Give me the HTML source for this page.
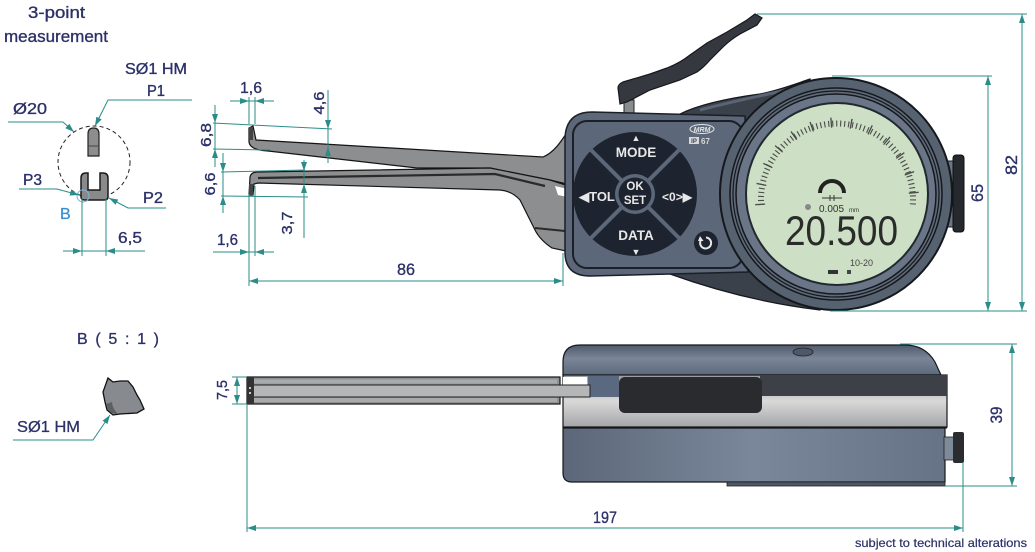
<!DOCTYPE html>
<html><head><meta charset="utf-8"><style>
html,body{margin:0;padding:0;background:#fff;}
svg{display:block;}
text{font-family:"Liberation Sans",sans-serif;}
</style></head><body>
<svg width="1035" height="552" viewBox="0 0 1035 552" xmlns="http://www.w3.org/2000/svg">
<defs>
<marker id="ar" markerUnits="userSpaceOnUse" markerWidth="9" markerHeight="6" refX="9" refY="3" orient="auto-start-reverse"><path d="M0,0 L9,3 L0,6 Z" fill="#2a8d89"/></marker>
<linearGradient id="gTop" x1="0" y1="0" x2="0" y2="1"><stop offset="0" stop-color="#4f5b6c"/><stop offset="0.45" stop-color="#7a8698"/><stop offset="1" stop-color="#5d6a7c"/></linearGradient>
<linearGradient id="gBand" x1="0" y1="0" x2="0" y2="1"><stop offset="0" stop-color="#9a9c9f"/><stop offset="0.5" stop-color="#d9d9da"/><stop offset="1" stop-color="#a4a5a7"/></linearGradient>
<linearGradient id="gLow" x1="0" y1="0" x2="1" y2="0"><stop offset="0" stop-color="#5c687a"/><stop offset="0.5" stop-color="#7a879a"/><stop offset="1" stop-color="#667386"/></linearGradient>
</defs>

<!-- ============ DETAIL VIEW TOP LEFT ============ -->
<g fill="#2c3169" stroke="#2c3169" stroke-width="0.35" font-size="17">
<text x="28" y="18" textLength="57" lengthAdjust="spacingAndGlyphs">3-point</text>
<text x="4" y="42" textLength="104" lengthAdjust="spacingAndGlyphs">measurement</text>
<text x="125" y="74" font-size="16" textLength="62" lengthAdjust="spacingAndGlyphs">SØ1 HM</text>
<text x="147" y="96" font-size="16" textLength="18" lengthAdjust="spacingAndGlyphs">P1</text>
<text x="13" y="114" font-size="16" textLength="34" lengthAdjust="spacingAndGlyphs">Ø20</text>
<text x="23" y="185" font-size="16" textLength="19" lengthAdjust="spacingAndGlyphs">P3</text>
<text x="143" y="203" font-size="16" textLength="20" lengthAdjust="spacingAndGlyphs">P2</text>
<text x="118" y="243" font-size="16" textLength="24" lengthAdjust="spacingAndGlyphs">6,5</text>
</g>
<text x="60" y="219" font-size="16" fill="#3a8fcf" stroke="#3a8fcf" stroke-width="0.3">B</text>
<circle cx="94" cy="162" r="36" fill="none" stroke="#222" stroke-width="1" stroke-dasharray="4 3"/>
<path d="M88,156 L88,134 Q88,128 93.5,128 Q99,128 99,134 L99,156 Z" fill="#8d8d8d" stroke="#222" stroke-width="1.2"/>
<path d="M88,146 L99,146" stroke="#444" stroke-width="1"/>
<path d="M81,197 L81,178 Q81,173 86,173 L88,173 L88,190 L100,190 L100,173 L103,173 Q108,173 108,178 L108,197 Q108,200 104,200 L85,200 Q81,200 81,197 Z" fill="#8a8a8a" stroke="#1a1a1a" stroke-width="1.5"/>
<circle cx="83" cy="196" r="6" fill="none" stroke="#7fb3dc" stroke-width="1"/>

<!-- ============ DETAIL B ============ -->
<text x="77" y="344" font-size="16" fill="#2c3169" stroke="#2c3169" stroke-width="0.3" textLength="82" lengthAdjust="spacing">B ( 5 : 1 )</text>
<path d="M108,378 L113,382 L120,381 L128,381 L133,387 L137,395 L140,400 L144,409 L137,413 L120,414 L113,415 L107,410 L105,402 L103,392 Z" fill="#878a8e" stroke="#111" stroke-width="1.3"/>
<path d="M106,404 Q108,414 118,414 Q112,408 112,402 Z" fill="#5c5f63"/>
<text x="17" y="432" font-size="16" fill="#2c3169" stroke="#2c3169" stroke-width="0.3" textLength="63" lengthAdjust="spacingAndGlyphs">SØ1 HM</text>

<!-- ============ FRONT VIEW ============ -->
<!-- lever -->
<rect x="624" y="100" width="10" height="14" fill="#8a8d90" stroke="#222" stroke-width="1"/>
<path d="M618,88 Q618,84 623,82 L650,74 L667,68 Q680,63 690,55 L707,43 L727,32 L747,20 L755,14 L762,18 L757,25 L740,34 Q730,40 723,47 L710,60 Q703,68 697,72 L680,80 L650,90 L627,102 L620,104 Z" fill="#35393f" stroke="#15181c" stroke-width="1.2"/>

<!-- arms -->
<path d="M249,128 L253,126 L256,140 L543,157 C555,152 562,140 570,128 L575,186 L550,180 L490,168 L417,168 L268,151 Q250,150 249,142 Z" fill="#8c8e90" stroke="#151515" stroke-width="1.2"/>
<path d="M250,177 Q251,172 258,172 L490,168 L550,180 L575,188 L575,253 L552,248 Q540,240 535,230 L520,200 Q512,191 500,190 L258,183 L254,184 L253,195 L249,195 Z" fill="#8c8e90" stroke="#151515" stroke-width="1.2"/>
<path d="M258,178 L495,174 L545,186" fill="none" stroke="#2a2a2a" stroke-width="2.2"/>
<path d="M535,228 L575,232" stroke="#2a2a2a" stroke-width="2"/>
<path d="M555,186 L572,190 L572,198 L558,195 Z" fill="#fff"/>
<rect x="249" y="127" width="4" height="13" fill="#444"/>
<rect x="249" y="184" width="4" height="11" fill="#444"/>

<!-- dark body behind -->
<path d="M680,114 C700,104 730,98 760,94 C780,90 795,84 810,79 L836,194 L820,310 C770,304 720,292 670,274 Z" fill="#3a414b" stroke="#15181c" stroke-width="1.2"/>
<path d="M700,110 C730,102 760,96 795,88" fill="none" stroke="#5a6474" stroke-width="3"/>

<!-- keypad panel -->
<path d="M565,140 Q565,112 592,112 L745,116 L748,272 L590,276 Q565,276 565,252 Z" fill="#5c6879" stroke="#1b1f26" stroke-width="1.5"/>
<rect x="573" y="121" width="170" height="147" rx="14" fill="none" stroke="#1b1f26" stroke-width="2"/>
<circle cx="635" cy="194" r="62" fill="#1d2430"/>
<g stroke="#5c6879" stroke-width="4">
<line x1="591" y1="150" x2="679" y2="238"/>
<line x1="679" y1="150" x2="591" y2="238"/>
</g>
<circle cx="635" cy="194" r="20" fill="#5c6879"/>
<circle cx="635" cy="194" r="16.5" fill="#1d2430"/>
<g fill="#e8e8e8" font-weight="bold" text-anchor="middle">
<text x="636" y="141" font-size="9">▲</text>
<text x="636" y="157" font-size="13.5">MODE</text>
<text x="636" y="255" font-size="9">▼</text>
<text x="636" y="240" font-size="13.5">DATA</text>
<text x="635" y="190" font-size="11.5">OK</text>
<text x="635" y="204" font-size="11.5">SET</text>
<text x="597" y="201" font-size="13">◀TOL</text>
<text x="677" y="201" font-size="12">&lt;0&gt;▶</text>
</g>
<circle cx="706" cy="243" r="12" fill="#1d2430"/>
<path d="M701,240 A5.5,5.5 0 1 0 706,237.5" fill="none" stroke="#e8e8e8" stroke-width="2"/>
<path d="M700,236 L703.5,241 L698,241 Z" fill="#e8e8e8"/>
<ellipse cx="702" cy="129" rx="12" ry="4.5" fill="none" stroke="#e6e6e6" stroke-width="1"/>
<text x="702" y="132" font-size="7" font-weight="bold" font-style="italic" fill="#e6e6e6" text-anchor="middle">MRM</text>
<rect x="689" y="137" width="10" height="7" fill="#d8d8d8"/>
<text x="694" y="143" font-size="6" font-weight="bold" fill="#3a3f48" text-anchor="middle">IP</text>
<text x="701" y="144" font-size="8" font-weight="bold" fill="#d8d8d8">67</text>

<!-- dial body -->
<rect x="943" y="161" width="11" height="66" fill="#6b7788" stroke="#1b1f26" stroke-width="1"/>
<rect x="953" y="155" width="11" height="77" rx="3" fill="#25282d" stroke="#111" stroke-width="1"/>
<circle cx="836" cy="194" r="116" fill="#56626f" stroke="#15181c" stroke-width="2"/>
<circle cx="836" cy="194" r="106" fill="#5e6a7a" stroke="#15181c" stroke-width="1.5"/>
<circle cx="836" cy="194" r="103" fill="none" stroke="#15181c" stroke-width="1.2"/>
<circle cx="836" cy="194" r="100" fill="#6a7687" stroke="#15181c" stroke-width="1.5"/>
<circle cx="837" cy="194" r="91" fill="#cddfc5" stroke="#22282f" stroke-width="2"/>
<!-- LCD ticks -->
<path d="M761.2,205 A76,76 0 1 1 912.8,205" fill="none" stroke="#4a4d4a" stroke-width="6" stroke-dasharray="1.1 2.9"/>
<path d="M760.2,205 A77,77 0 1 1 913.8,205" fill="none" stroke="#4a4d4a" stroke-width="10" stroke-dasharray="1.3 18.7"/>
<path d="M820,193 A12,12 0 0 1 844,193" fill="none" stroke="#222" stroke-width="4"/>
<path d="M822,198 L842,198 M830,195 L830,201 M834,195 L834,201" stroke="#333" stroke-width="1"/>
<circle cx="808" cy="207" r="3" fill="#888"/>
<text x="819" y="212" font-size="10" font-family="Liberation Mono, monospace" fill="#333">0.005</text>
<text x="849" y="212" font-size="6" fill="#333">mm</text>
<text x="785" y="245" font-size="42" font-family="Liberation Mono, monospace" fill="#2b2b2b" textLength="113" lengthAdjust="spacingAndGlyphs">20.500</text>
<text x="850" y="266" font-size="9" font-family="Liberation Mono, monospace" fill="#444">10-20</text>
<rect x="828" y="270" width="10" height="4" fill="#333"/>
<rect x="847" y="270" width="4" height="4" fill="#444"/>

<!-- ============ SIDE VIEW ============ -->
<path d="M563,362 Q563,345 580,345 L905,345 Q925,345 935,362 L941,375 L563,375 Z" fill="url(#gTop)" stroke="#15181c" stroke-width="1.2"/>
<ellipse cx="803" cy="352" rx="10" ry="4" fill="#4d5868" stroke="#222" stroke-width="0.8"/>
<rect x="563" y="375" width="384" height="52" fill="url(#gBand)" stroke="#15181c" stroke-width="1.2"/>
<rect x="760" y="375" width="187" height="21" fill="#3d4046"/>
<rect x="588" y="376" width="31" height="21" fill="#5a6880"/>
<rect x="619" y="377" width="143" height="36" rx="6" fill="#2a2b2e"/>
<path d="M563,428 L945,428 L945,482 L572,482 Q563,482 563,473 Z" fill="url(#gLow)" stroke="#15181c" stroke-width="1.2"/>
<line x1="563" y1="427.5" x2="947" y2="427.5" stroke="#151515" stroke-width="2"/>
<rect x="727" y="482" width="218" height="4" fill="#4c5868" stroke="#222" stroke-width="0.8"/>
<rect x="944" y="437" width="10" height="23" fill="#7d8a9a" stroke="#222" stroke-width="0.8"/>
<rect x="953" y="432" width="11" height="31" rx="2" fill="#2a2c30"/>
<rect x="563" y="377" width="24" height="8" fill="#fff"/>
<!-- rod -->
<rect x="247" y="377" width="313" height="27" fill="#8f9193" stroke="#151515" stroke-width="1.2"/>
<rect x="252" y="379.5" width="305" height="4" fill="#a9aaac"/>
<rect x="252" y="398" width="305" height="4" fill="#a9aaac"/>
<rect x="250" y="385" width="340" height="12" fill="#b5b6b8" stroke="#222" stroke-width="1"/>
<rect x="247" y="377" width="7" height="27" fill="#333"/>
<rect x="249" y="387" width="2" height="2" fill="#ccc"/><rect x="249" y="392" width="2" height="2" fill="#ccc"/>

<!-- ============ DIMENSIONS ============ -->
<g stroke="#2a8d89" stroke-width="1" fill="none">
<polyline points="192,100 108,100 95,126" marker-end="url(#ar)"/>
<polyline points="8,122 63,122 74,132" marker-end="url(#ar)"/>
<polyline points="19,189 57,189 79,195" marker-end="url(#ar)"/>
<polyline points="166,208 128,208 109,198" marker-end="url(#ar)"/>
<line x1="82" y1="198" x2="82" y2="256"/><line x1="106" y1="198" x2="106" y2="256"/>
<line x1="63" y1="251" x2="145" y2="251"/>
<line x1="66" y1="251" x2="82" y2="251" marker-end="url(#ar)"/>
<line x1="124" y1="251" x2="106" y2="251" marker-end="url(#ar)"/>
<polyline points="13,440 93,440 110,415" marker-end="url(#ar)"/>
<line x1="249" y1="97" x2="249" y2="124"/><line x1="255" y1="97" x2="255" y2="124"/>
<line x1="230" y1="101" x2="274" y2="101"/>
<line x1="236" y1="101" x2="249" y2="101" marker-end="url(#ar)"/>
<line x1="268" y1="101" x2="255" y2="101" marker-end="url(#ar)"/>
<line x1="215" y1="105" x2="215" y2="167"/>
<line x1="213" y1="123" x2="332" y2="129"/><line x1="213" y1="149" x2="270" y2="150"/>
<line x1="215" y1="110" x2="215" y2="123" marker-end="url(#ar)"/>
<line x1="215" y1="162" x2="215" y2="149" marker-end="url(#ar)"/>
<line x1="328" y1="90" x2="328" y2="163"/>
<line x1="328" y1="116" x2="328" y2="129" marker-end="url(#ar)"/>
<line x1="328" y1="160" x2="328" y2="147" marker-end="url(#ar)"/>
<line x1="223" y1="153" x2="223" y2="213"/>
<line x1="221" y1="172" x2="305" y2="170"/><line x1="221" y1="196" x2="308" y2="197"/>
<line x1="223" y1="159" x2="223" y2="172" marker-end="url(#ar)"/>
<line x1="223" y1="209" x2="223" y2="196" marker-end="url(#ar)"/>
<line x1="304" y1="160" x2="304" y2="238"/>
<line x1="304" y1="160" x2="304" y2="171" marker-end="url(#ar)"/>
<line x1="304" y1="197" x2="304" y2="184" marker-end="url(#ar)"/>
<line x1="249" y1="194" x2="249" y2="286"/><line x1="255" y1="186" x2="255" y2="256"/>
<line x1="213" y1="252" x2="274" y2="252"/>
<line x1="236" y1="252" x2="249" y2="252" marker-end="url(#ar)"/>
<line x1="268" y1="252" x2="255" y2="252" marker-end="url(#ar)"/>
<line x1="563" y1="253" x2="563" y2="286"/>
<line x1="249" y1="281" x2="563" y2="281" marker-start="url(#ar)" marker-end="url(#ar)"/>
<line x1="757" y1="14" x2="1027" y2="14"/>
<line x1="830" y1="311" x2="1027" y2="311"/>
<line x1="1022" y1="14" x2="1022" y2="311" marker-start="url(#ar)" marker-end="url(#ar)"/>
<line x1="832" y1="76" x2="992" y2="76"/>
<line x1="988" y1="76" x2="988" y2="311" marker-start="url(#ar)" marker-end="url(#ar)"/>
<line x1="232" y1="377" x2="247" y2="377"/><line x1="232" y1="404" x2="247" y2="404"/>
<line x1="237" y1="377" x2="237" y2="404" marker-start="url(#ar)" marker-end="url(#ar)"/>
<line x1="247" y1="404" x2="247" y2="532"/>
<line x1="963" y1="462" x2="963" y2="532"/>
<line x1="247" y1="528" x2="963" y2="528" marker-start="url(#ar)" marker-end="url(#ar)"/>
<line x1="900" y1="344" x2="1017" y2="344"/>
<line x1="945" y1="486" x2="1017" y2="486"/>
<line x1="1012" y1="344" x2="1012" y2="486" marker-start="url(#ar)" marker-end="url(#ar)"/>
</g>

<!-- dimension texts -->
<g fill="#2c3169" stroke="#2c3169" stroke-width="0.35" font-size="17">
<text x="240" y="93" font-size="16" textLength="22" lengthAdjust="spacingAndGlyphs">1,6</text>
<text x="217" y="245" font-size="16" textLength="21" lengthAdjust="spacingAndGlyphs">1,6</text>
<text x="397" y="275" textLength="18" lengthAdjust="spacingAndGlyphs">86</text>
<text x="593" y="523" textLength="24" lengthAdjust="spacingAndGlyphs">197</text>
<g text-anchor="middle" font-size="15">
<text transform="translate(206,135) rotate(-90)" y="5" textLength="24" lengthAdjust="spacingAndGlyphs">6,8</text>
<text transform="translate(319,103) rotate(-90)" y="5" textLength="23" lengthAdjust="spacingAndGlyphs">4,6</text>
<text transform="translate(210,184) rotate(-90)" y="5" textLength="23" lengthAdjust="spacingAndGlyphs">6,6</text>
<text transform="translate(287,223) rotate(-90)" y="5" textLength="23" lengthAdjust="spacingAndGlyphs">3,7</text>
<text transform="translate(222,390) rotate(-90)" y="5" textLength="20" lengthAdjust="spacingAndGlyphs">7,5</text>
</g>
<g text-anchor="middle">
<text transform="translate(1011,165) rotate(-90)" y="6" textLength="20" lengthAdjust="spacingAndGlyphs">82</text>
<text transform="translate(977,193) rotate(-90)" y="6" textLength="18" lengthAdjust="spacingAndGlyphs">65</text>
<text transform="translate(996,415) rotate(-90)" y="6" textLength="17" lengthAdjust="spacingAndGlyphs">39</text>
</g>
<text x="855" y="547" font-size="12" stroke-width="0.2" textLength="172" lengthAdjust="spacingAndGlyphs">subject to technical alterations</text>
</g>
</svg>
</body></html>
